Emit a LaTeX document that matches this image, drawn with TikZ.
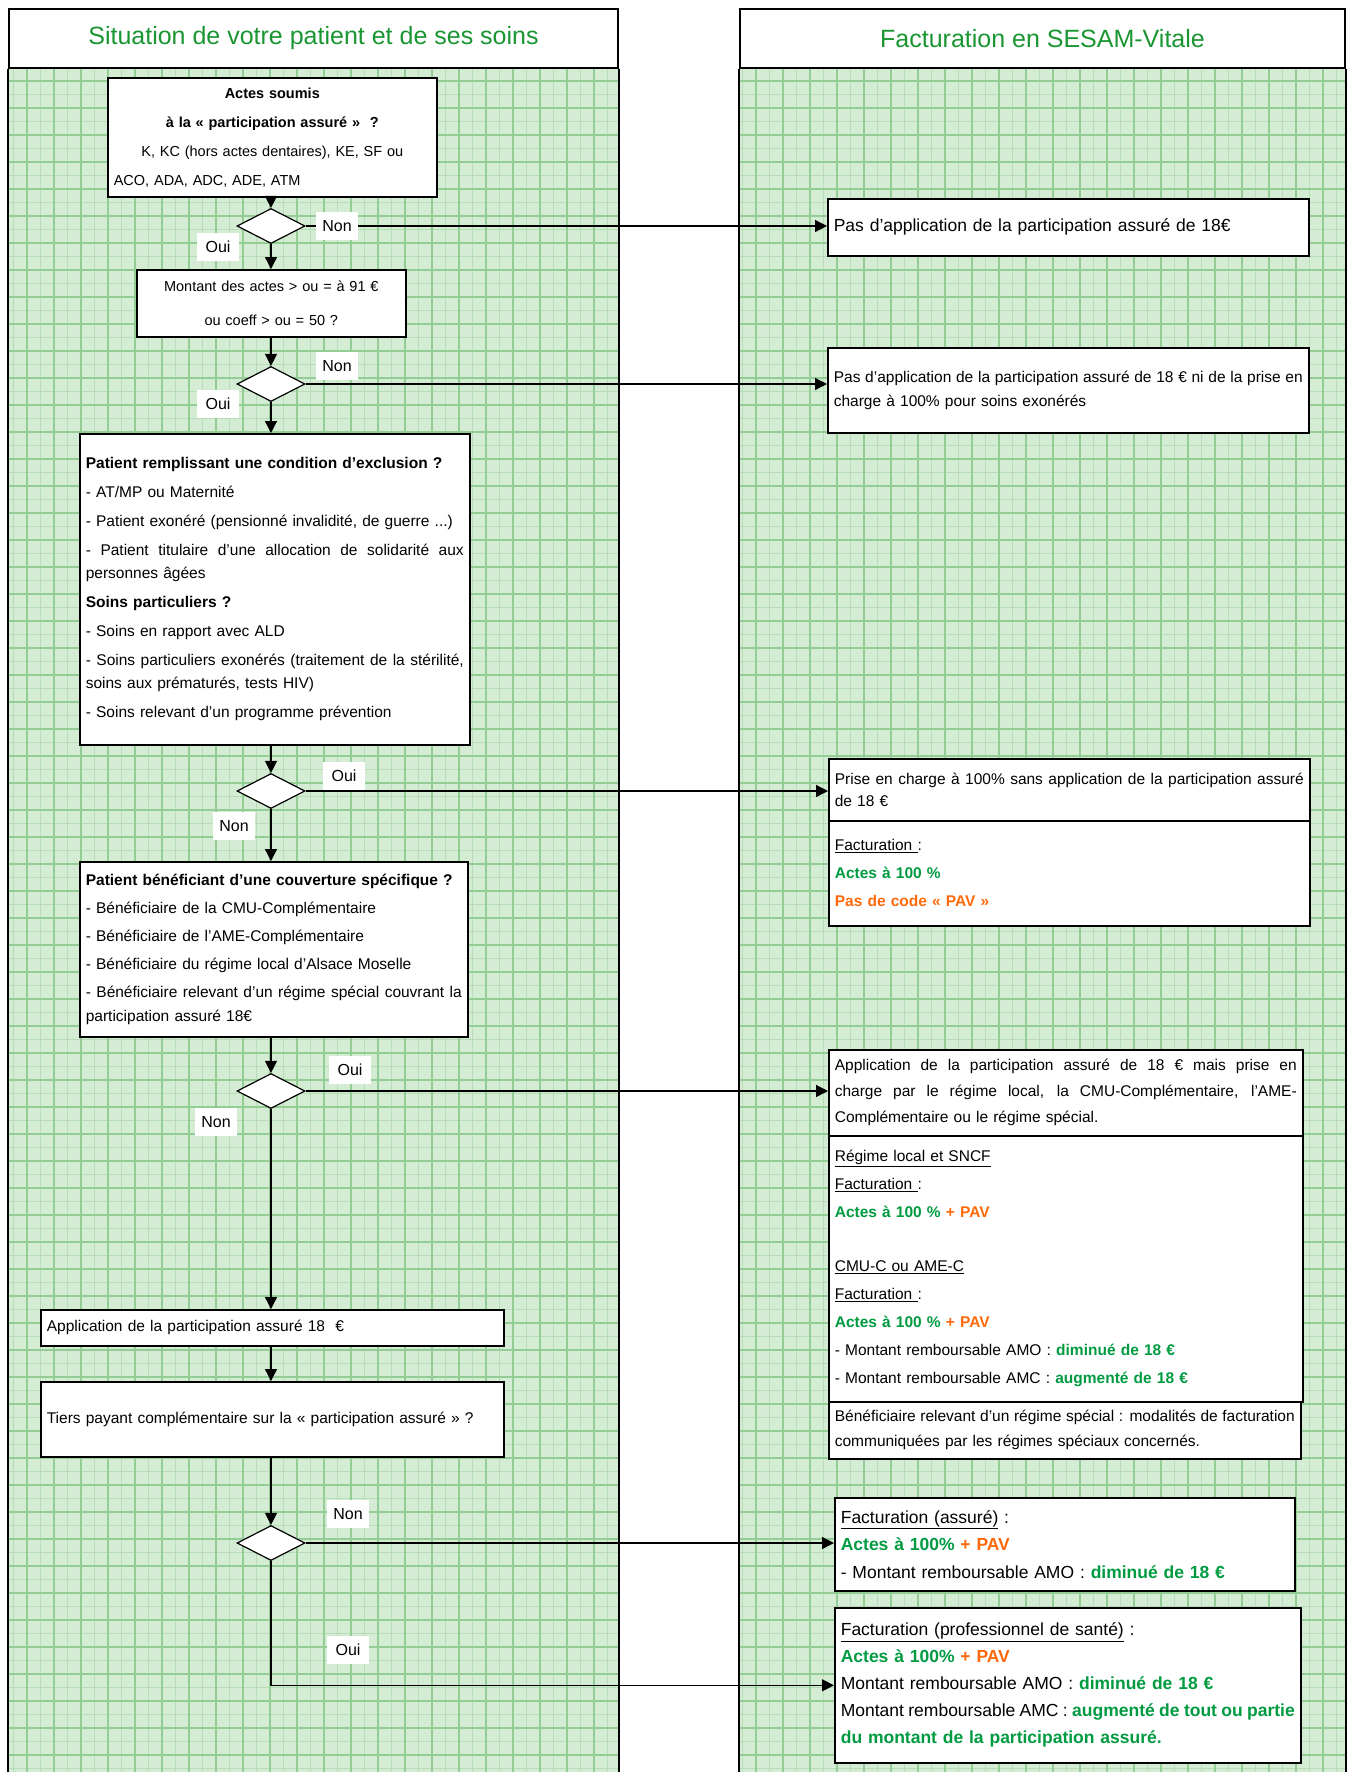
\documentclass[tikz,border=0pt]{standalone}
\usepackage{fontspec}
\setmainfont{Liberation Sans}
\usetikzlibrary{shapes.geometric,arrows.meta}
\newcommand{\fillline}[1]{\makebox[\hsize][s]{\spaceskip=0pt\xspaceskip=0pt\relax #1}}
\newcommand{\vtxt}[1]{\textbf{\textcolor{TexteVert}{#1}}}
\newcommand{\otxt}[1]{\textbf{\textcolor{TexteOrange}{#1}}}
\begin{document}
\begin{tikzpicture}[x=1pt,y=-1pt,
	entete/.style={draw,line width=1.6pt,fill=white,inner sep=0pt,text=TitreVert,font=\fontsize{25}{30}\selectfont},
	boite/.style={draw,line width=1.6pt,fill=white,anchor=north west,inner sep=6pt,align=left,font=\fontsize{15.5}{23}\selectfont},
	losange/.style={draw,diamond,fill=white,line width=1.2pt,inner sep=0pt,minimum width=68pt,minimum height=35pt},
	reponse/.style={fill=white,inner sep=3pt,minimum width=42pt,minimum height=28pt,font=\fontsize{16}{18}\selectfont},
	fleche/.style={line width=1.3pt,-{Triangle[length=12pt,width=12pt]}}]
	\definecolor{FondVert}{RGB}{212,236,212}
	\definecolor{GrilleFine}{RGB}{182,221,182}
	\definecolor{GrilleForte}{RGB}{148,204,150}
	\definecolor{TitreVert}{RGB}{25,150,50}
	\definecolor{TexteVert}{RGB}{0,155,65}
	\definecolor{TexteOrange}{RGB}{255,105,10}
	\useasboundingbox (0,0) rectangle (1354,1772);
	\begin{scope}
		\clip (9,68) rectangle (618,1772) (740,68) rectangle (1345,1772);
		\fill[FondVert] (0,0) rectangle (1354,1772);
		\foreach \g in {0,13.5,...,1354} \draw[GrilleFine,line width=1.1pt] (\g,0) -- (\g,1772);
		\foreach \g in {0,13.5,...,1772} \draw[GrilleFine,line width=1.1pt] (0,\g) -- (1354,\g);
		\foreach \g in {0,27,...,1354} \draw[GrilleForte,line width=1.4pt] (\g,0) -- (\g,1772);
		\foreach \g in {0,27,...,1772} \draw[GrilleForte,line width=1.4pt] (0,\g) -- (1354,\g);
	\end{scope}
	\node[entete,minimum width=609pt,minimum height=59pt] (titre1) at (313.5,38.5) {Situation de votre patient et de ses soins};
	\node[entete,minimum width=605pt,minimum height=59pt] (titre2) at (1042.5,38.5) {Facturation en SESAM-Vitale};
	\draw[line width=1.6pt] (titre1.south west) -- +(0,1704) (titre1.south east) -- +(0,1704)
		(titre2.south west) -- +(0,1704) (titre2.south east) -- +(0,1704);

	\node[boite,align=center,font=\fontsize{14.5}{29}\selectfont,text width=317pt,minimum height=119pt] (actes) at (107,77)
		{\textbf{Actes soumis}\\ \textbf{à la « participation assuré »\ \ ?}\\ K, KC (hors actes dentaires), KE, SF ou\\ \makebox[\hsize][l]{ACO, ADA, ADC, ADE, ATM}};
	\node[losange] (d1) at (271,226) {};
	\node[boite,align=center,font=\fontsize{14.5}{34}\selectfont,text width=257pt,minimum height=67pt] (montant) at (136,269)
		{Montant des actes > ou = à 91 €\\ ou coeff > ou = 50 ?};
	\node[losange] (d2) at (271,384) {};
	\node[boite,text width=378pt,minimum height=311pt] (exclusion) at (79,433)
		{\textbf{Patient remplissant une condition d'exclusion ?}\\[6pt]
		- AT/MP ou Maternité\\[6pt]
		- Patient exonéré (pensionné invalidité, de guerre ...)\\[6pt]
		\fillline{- Patient titulaire d'une allocation de solidarité aux}\\
		personnes âgées\\[6pt]
		\textbf{Soins particuliers ?}\\[6pt]
		- Soins en rapport avec ALD\\[6pt]
		\fillline{- Soins particuliers exonérés (traitement de la stérilité,}\\
		soins aux prématurés, tests HIV)\\[6pt]
		- Soins relevant d'un programme prévention};
	\node[losange] (d3) at (271,791) {};
	\node[boite,font=\fontsize{15.5}{24}\selectfont,text width=376pt,minimum height=175pt] (couverture) at (79,861)
		{\textbf{Patient bénéficiant d'une couverture spécifique ?}\\[4pt]
		- Bénéficiaire de la CMU-Complémentaire\\[4pt]
		- Bénéficiaire de l'AME-Complémentaire\\[4pt]
		- Bénéficiaire du régime local d'Alsace Moselle\\[4pt]
		\fillline{- Bénéficiaire relevant d'un régime spécial couvrant la}\\
		participation assuré 18€};
	\node[losange] (d4) at (271,1091) {};
	\node[boite,text width=451pt,minimum height=36pt] (application) at (40,1309)
		{Application de la participation assuré 18\ \ €};
	\node[boite,text width=451pt,minimum height=75pt] (tiers) at (40,1381)
		{Tiers payant complémentaire sur la « participation assuré » ?};
	\node[losange] (d5) at (271,1543) {};

	\node[boite,font=\fontsize{17.5}{23}\selectfont,text width=469pt,minimum height=57pt] (pas) at (827,198)
		{Pas d'application de la participation assuré de 18€};
	\node[boite,font=\fontsize{15.5}{24}\selectfont,text width=469pt,minimum height=85pt] (pasexo) at (827,347)
		{\fillline{Pas d'application de la participation assuré de 18 € ni de la prise en}\\ charge à 100\% pour soins exonérés};
	\node[boite,font=\fontsize{15.5}{22}\selectfont,text width=469pt,minimum height=62pt] (cent) at (828,758)
		{\fillline{Prise en charge à 100\% sans application de la participation assuré}\\ de 18 €};
	\node[boite,font=\fontsize{15.5}{28}\selectfont,text width=469pt,minimum height=105pt] (centfact) at (828,820)
		{\underline{Facturation\ }:\\ \vtxt{Actes à 100 \%}\\ \otxt{Pas de code « PAV »}};
	\node[boite,font=\fontsize{15.5}{26}\selectfont,text width=462pt,minimum height=86pt] (prise) at (828,1049)
		{\fillline{Application de la participation assuré de 18 € mais prise en}\\
		\fillline{charge par le régime local, la CMU-Complémentaire, l'AME-}\\
		Complémentaire ou le régime spécial.};
	\node[boite,font=\fontsize{15.5}{28}\selectfont,text width=462pt,minimum height=266pt] (prisefact) at (828,1135)
		{\underline{Régime local et SNCF}\\ \underline{Facturation\ }:\\ \vtxt{Actes à 100 \%} \otxt{+ PAV}\\[26pt]
		\underline{CMU-C ou AME-C}\\ \underline{Facturation\ }:\\ \vtxt{Actes à 100 \%} \otxt{+ PAV}\\
		- Montant remboursable AMO : \vtxt{diminué de 18 €}\\
		- Montant remboursable AMC : \vtxt{augmenté de 18 €}};
	\node[boite,font=\fontsize{15.5}{25}\selectfont,text width=460pt,minimum height=57pt] (special) at (828,1401)
		{\fillline{Bénéficiaire relevant d'un régime spécial : modalités de facturation}\\ communiquées par les régimes spéciaux concernés.};
	\node[boite,font=\fontsize{17.5}{27.5}\selectfont,text width=448pt,minimum height=93pt] (assure) at (834,1497)
		{\underline{Facturation (assuré)} :\\ \vtxt{Actes à 100\%} \otxt{+ PAV}\\ - Montant remboursable AMO : \vtxt{diminué de 18 €}};
	\node[boite,font=\fontsize{17.5}{27}\selectfont,text width=454pt,minimum height=155pt] (pro) at (834,1607)
		{\underline{Facturation (professionnel de santé)} :\\ \vtxt{Actes à 100\%} \otxt{+ PAV}\\
		Montant remboursable AMO : \vtxt{diminué de 18 €}\\
		\fillline{Montant remboursable AMC : \vtxt{augmenté de tout ou partie}}\\
		\vtxt{du montant de la participation assuré.}};

	\foreach \a/\b in {actes/d1,montant/d2,exclusion/d3,couverture/d4,tiers/d5}
		\draw[fleche] (\a.south -| \b.north) -- (\b.north);
	\foreach \a/\b in {d1/montant,d2/exclusion,d3/couverture,d4/application}
		\draw[fleche] (\a.south) -- (\a.south |- \b.north);
	\draw[fleche] (application.south -| d5.north) -- (tiers.north -| d5.north);
	\foreach \a/\b in {d1/pas,d2/pasexo,d3/cent,d4/prise,d5/assure}
		\draw[fleche] (\a.east) -- (\a.east -| \b.west);
	\draw[fleche] (d5.south) |- (pro.west);

	\node[reponse] (non1) at (337,226) {Non};
	\node[reponse] (oui1) at (218,247) {Oui};
	\node[reponse] (non2) at (337,366) {Non};
	\node[reponse] (oui2) at (218,404) {Oui};
	\node[reponse] (oui3) at (344,776) {Oui};
	\node[reponse] (non3) at (234,826) {Non};
	\node[reponse] (oui4) at (350,1070) {Oui};
	\node[reponse] (non4) at (216,1122) {Non};
	\node[reponse] (non5) at (348,1514) {Non};
	\node[reponse] (oui5) at (348,1650) {Oui};
\end{tikzpicture}
\end{document}
